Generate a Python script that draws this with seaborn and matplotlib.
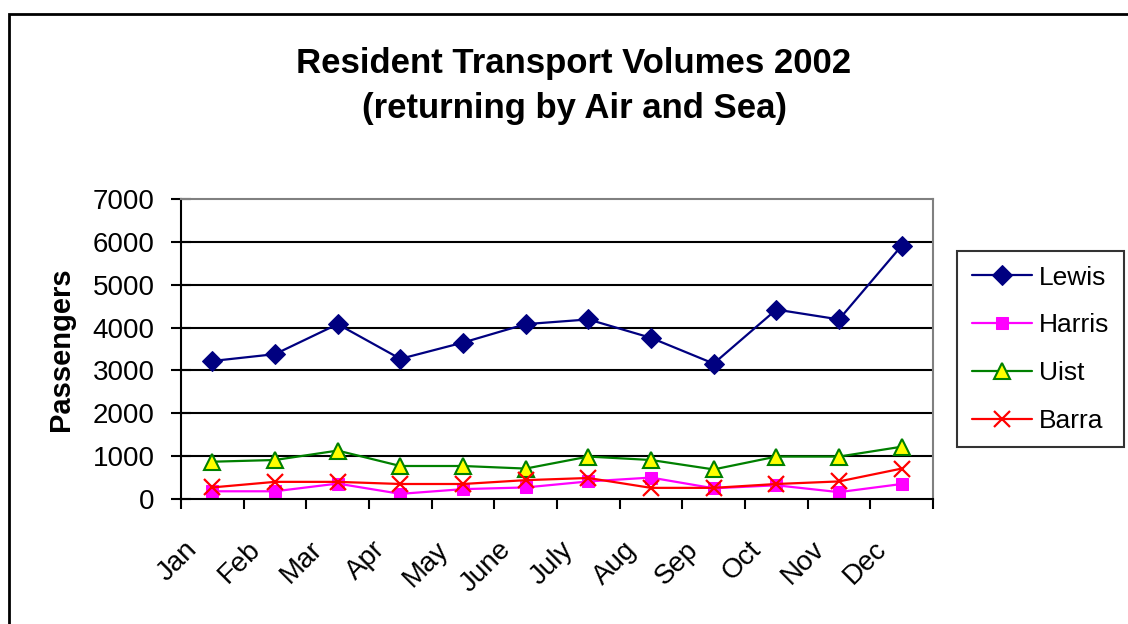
import pandas as pd
import matplotlib
matplotlib.use('Agg')
import matplotlib.pyplot as plt
import matplotlib.transforms as mtransforms
from matplotlib.patches import Rectangle
from matplotlib.ticker import FixedLocator
import seaborn as sns

# Values
months = ['Jan', 'Feb', 'Mar', 'Apr', 'May', 'June', 'July', 'Aug', 'Sep', 'Oct', 'Nov', 'Dec']
lewis = [3220, 3380, 4080, 3270, 3650, 4080, 4190, 3760, 3160, 4420, 4190, 5910]
harris = [180, 180, 360, 120, 230, 270, 410, 500, 250, 320, 160, 350]
uist = [870, 910, 1130, 770, 770, 710, 990, 910, 690, 990, 990, 1220]
barra = [270, 400, 400, 350, 350, 440, 490, 260, 260, 350, 410, 710]

y_ticks = [0, 1000, 2000, 3000, 4000, 5000, 6000, 7000]

sns.set_style('white')
plt.rcParams['font.family'] = ['Liberation Sans', 'DejaVu Sans']
plt.rcParams['text.color'] = 'black'
plt.rcParams['axes.labelcolor'] = 'black'
plt.rcParams['xtick.color'] = 'black'
plt.rcParams['ytick.color'] = 'black'

fig = plt.figure(figsize=(11.28, 6.24), dpi=100)
ax = fig.add_axes([181 / 1128, 1 - 499 / 624, (933 - 181) / 1128, 300 / 624])

series = [
    ('Lewis', lewis, dict(color='#000080', marker='D', markersize=10,
                          markerfacecolor='#000080', markeredgecolor='#000080')),
    ('Harris', harris, dict(color='#FF00FF', marker='s', markersize=9,
                            markerfacecolor='#FF00FF', markeredgecolor='#FF00FF')),
    ('Uist', uist, dict(color='#008000', marker='^', markersize=11,
                        markerfacecolor='#FFFF00', markeredgecolor='#008000', markeredgewidth=1.5)),
    ('Barra', barra, dict(color='#FF0000', marker='x', markersize=11,
                          markeredgecolor='#FF0000', markeredgewidth=1.6)),
]

for name, vals, style in series:
    df = pd.DataFrame({'month': months, 'value': vals})
    sns.lineplot(data=df, x='month', y='value', ax=ax, label=name, linewidth=1.6, **style)

ax.set_xlim(-0.5, len(months) - 0.5)
ax.set_ylim(0, 7000)
ax.set_yticks(y_ticks)
ax.set_yticklabels([str(t) for t in y_ticks], fontsize=20)

# gridlines
for t in y_ticks[1:-1]:
    ax.axhline(t, color='black', linewidth=1.5, zorder=0.5)

# category labels centred, tick marks on boundaries
ax.set_xticks(range(len(months)))
ax.set_xticklabels(months, fontsize=20, rotation=45, ha='right', rotation_mode='anchor')
ax.xaxis.set_minor_locator(FixedLocator([i - 0.5 for i in range(len(months) + 1)]))
ax.tick_params(axis='x', which='major', length=0, pad=27)
ax.tick_params(axis='x', which='minor', direction='out', length=7, width=1.5, color='black', bottom=True)
ax.tick_params(axis='y', direction='inout', length=14, width=1.5, color='black', left=True, pad=12)
offset = mtransforms.ScaledTranslation(-0.28, 0, fig.dpi_scale_trans)
for lab in ax.get_xticklabels():
    lab.set_transform(lab.get_transform() + offset)

ax.set_xlabel('')
ax.set_ylabel('Passengers', fontsize=21, fontweight='bold')
ax.yaxis.set_label_coords((75 - 181) / 752, 0.5)

for side in ['left', 'bottom']:
    ax.spines[side].set_color('black')
    ax.spines[side].set_linewidth(1.5)
for side in ['top', 'right']:
    ax.spines[side].set_color('#808080')
    ax.spines[side].set_linewidth(1.5)

fig.suptitle('Resident Transport Volumes 2002\n(returning by Air and Sea)',
             x=574 / 1128, y=1 - 47 / 624, fontsize=25, fontweight='bold', linespacing=1.45)

leg = ax.legend(loc='upper left', bbox_to_anchor=(957 / 1128, 1 - 251 / 624),
                bbox_transform=fig.transFigure, fontsize=19, frameon=True, fancybox=False,
                handlelength=2.3, labelspacing=0.9, borderpad=0.55, handletextpad=0.25,
                borderaxespad=0)
leg.get_frame().set_edgecolor('black')
leg.get_frame().set_linewidth(1.5)

# outer chart border
fig.patches.append(Rectangle((9 / 1128, -0.5), 2, 1.5 - 14 / 624, transform=fig.transFigure,
                             fill=False, edgecolor='black', linewidth=2))

fig.savefig('out.png', dpi=100)
